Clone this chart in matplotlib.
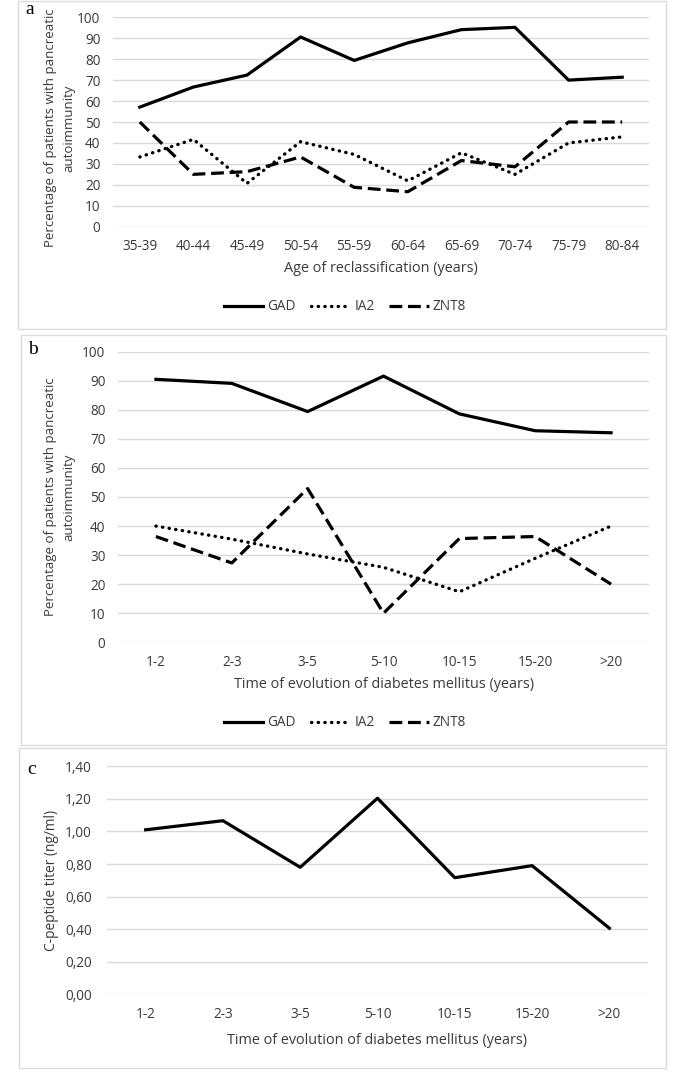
import matplotlib.pyplot as plt
from matplotlib.patches import Rectangle
from matplotlib.lines import Line2D
from matplotlib.ticker import FuncFormatter

# Datos
age_groups = ['35-39', '40-44', '45-49', '50-54', '55-59', '60-64', '65-69', '70-74', '75-79', '80-84']
gad_age = [57.1, 66.7, 72.4, 90.6, 79.4, 87.8, 94.1, 95.2, 70.0, 71.4]
ia2_age = [33.3, 41.7, 20.7, 40.6, 34.5, 21.9, 35.3, 25.0, 40.0, 42.9]
znt8_age = [50.0, 25.0, 26.3, 33.3, 18.8, 16.7, 31.6, 28.6, 50.0, 50.0]

evolution = ['1-2', '2-3', '3-5', '5-10', '10-15', '15-20', '>20']
gad_evol = [90.5, 89.1, 79.4, 91.6, 78.6, 72.8, 72.1]
ia2_evol = [40.0, 35.5, 30.4, 25.8, 17.4, 28.9, 40.0]
znt8_evol = [36.4, 27.3, 52.9, 10.0, 35.7, 36.4, 20.0]

cpeptide = [1.01, 1.066, 0.78, 1.204, 0.716, 0.79, 0.406]

W, H = 685, 1072
TXT = '#3a3a3a'
GRID = '#d9d9d9'
SANS = ['Open Sans', 'DejaVu Sans']
TICK_SIZE = 9.8

fig = plt.figure(figsize=(W / 100, H / 100), dpi=100)


def px_rect(left, top, right, bottom):
    # convierte pixeles (desde arriba) a fracciones de la figura
    return [left / W, 1 - bottom / H, (right - left) / W, (bottom - top) / H]


def panel_box(left, top, right, bottom):
    x, y, w, h = px_rect(left, top, right, bottom)
    fig.add_artist(Rectangle((x, y), w, h, transform=fig.transFigure,
                             fill=False, ec='#dcdcdc', lw=1))


def style_axes(ax, cats, ymax, step):
    for s in ax.spines.values():
        s.set_visible(False)
    ax.set_xticks(range(len(cats)))
    ax.set_xticklabels(cats, family=SANS)
    ax.set_xlim(-0.5, len(cats) - 0.5)
    ax.set_ylim(0, ymax)
    n = int(round(ymax / step))
    ax.set_yticks([i * step for i in range(n + 1)])
    ax.grid(axis='y', color=GRID, lw=1)
    ax.set_axisbelow(True)
    ax.tick_params(length=0, labelsize=TICK_SIZE, colors=TXT)
    ax.tick_params(axis='x', pad=9)
    ax.tick_params(axis='y', pad=9)
    for lab in ax.get_yticklabels():
        lab.set_family(SANS)


line_styles = {
    'GAD': dict(color='black', lw=2.3, ls='-', solid_joinstyle='round'),
    'IA2': dict(color='black', lw=2.4, ls=(0, (0.1, 1.9)), dash_capstyle='round'),
    'ZNT8': dict(color='black', lw=2.3, ls=(0, (4, 1.8)), dash_capstyle='butt'),
}


def add_legend(ycenter):
    handles = [Line2D([], [], **line_styles[k]) for k in ['GAD', 'IA2', 'ZNT8']]
    fig.legend(handles, ['GAD', 'IA2', 'ZNT8'], loc='center',
               bbox_to_anchor=(345 / W, 1 - ycenter / H), ncol=3, frameon=False,
               handlelength=2.9, handletextpad=0.3, columnspacing=1.1,
               prop={'family': SANS, 'size': TICK_SIZE}, labelcolor=TXT)


# Panel a: edad de reclasificacion
panel_box(18, 1, 666, 329)
ax1 = fig.add_axes(px_rect(113, 17.3, 649, 226.7))
x = range(len(age_groups))
ax1.plot(x, gad_age, **line_styles['GAD'])
ax1.plot(x, ia2_age, **line_styles['IA2'])
ax1.plot(x, znt8_age, **line_styles['ZNT8'])
style_axes(ax1, age_groups, 100, 10)
fig.text(60 / W, 1 - 128 / H, 'Percentage of patients with pancreatic\nautoimmunity',
         rotation=90, ha='center', va='center', family=SANS, fontsize=9.5, color=TXT,
         linespacing=1.5)
fig.text(381 / W, 1 - 268 / H, 'Age of reclassification (years)', ha='center', va='center',
         family=SANS, fontsize=10.4, color=TXT)
add_legend(307)
fig.text(25 / W, 1 - 10 / H, 'a', family='Liberation Serif', fontsize=14, ha='left', va='center')

# Panel b: tiempo de evolucion
panel_box(21, 335, 666, 745)
ax2 = fig.add_axes(px_rect(118, 351.7, 649, 642.3))
x = range(len(evolution))
ax2.plot(x, gad_evol, **line_styles['GAD'])
ax2.plot(x, ia2_evol, **line_styles['IA2'])
ax2.plot(x, znt8_evol, **line_styles['ZNT8'])
style_axes(ax2, evolution, 100, 10)
fig.text(60 / W, 1 - 497 / H, 'Percentage of patients with pancreatic\nautoimmunity',
         rotation=90, ha='center', va='center', family=SANS, fontsize=9.5, color=TXT,
         linespacing=1.5)
fig.text(384 / W, 1 - 684 / H, 'Time of evolution of diabetes mellitus (years)', ha='center',
         va='center', family=SANS, fontsize=10.4, color=TXT)
add_legend(723)
fig.text(28 / W, 1 - 349 / H, 'b', family='Liberation Serif', fontsize=14, ha='left', va='center')

# Panel c: peptido C
panel_box(19, 748, 666, 1068)
ax3 = fig.add_axes(px_rect(107, 766.3, 648, 994.3))
ax3.plot(range(len(evolution)), cpeptide, **line_styles['GAD'])
style_axes(ax3, evolution, 1.4, 0.2)
ax3.yaxis.set_major_formatter(FuncFormatter(lambda v, p: f'{v:.2f}'.replace('.', ',')))
ax3.tick_params(axis='y', pad=11)
fig.text(52 / W, 1 - 880 / H, 'C-peptide titer (ng/ml)', rotation=90, ha='center',
         va='center', family=SANS, fontsize=9.9, color=TXT)
fig.text(377 / W, 1 - 1040 / H, 'Time of evolution of diabetes mellitus (years)', ha='center',
         va='center', family=SANS, fontsize=10.4, color=TXT)
fig.text(27 / W, 1 - 770 / H, 'c', family='Liberation Serif', fontsize=14, ha='left', va='center')

fig.savefig('out.png', dpi=100)
